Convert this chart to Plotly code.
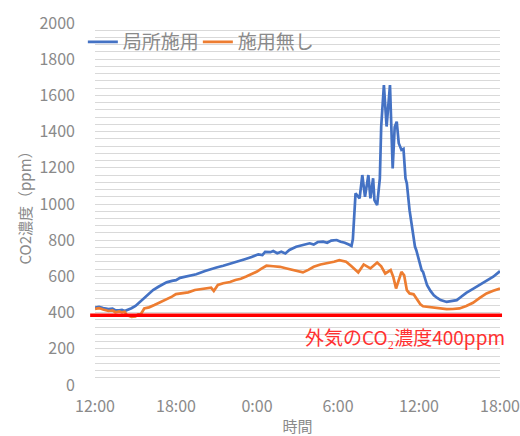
import plotly.graph_objects as go

# hours since 12:00 on day 1
hours_local = [0.0, 0.3, 0.6, 1.0, 1.3, 1.5, 1.8, 2.0, 2.2, 2.5, 2.7, 3.0, 3.3, 3.7, 4.0, 4.3, 4.7, 5.0,
               5.3, 5.7, 6.0, 6.3, 6.7, 7.0, 7.5, 8.15, 8.6, 9.0, 9.5, 9.9, 10.5, 11.1, 11.6, 12.1,
               12.4, 12.6, 13.0, 13.2, 13.5, 13.8, 14.1, 14.4, 14.9, 15.3, 15.6, 15.9, 16.2, 16.5,
               16.9, 17.2, 17.5, 17.9, 18.2, 18.5, 18.8, 19.0, 19.1, 19.2, 19.3, 19.45, 19.6, 19.8,
               20.0, 20.25, 20.4, 20.6, 20.7, 20.9, 21.1, 21.2, 21.4, 21.6, 21.85, 22.05, 22.2,
               22.35, 22.5, 22.7, 22.85, 23.0, 23.1, 23.3, 23.5, 23.7, 23.8, 23.95, 24.1, 24.2,
               24.3, 24.45, 24.6, 24.85, 25.1, 25.35, 25.6, 26.05, 26.4, 26.8, 27.1, 27.5, 28.0,
               28.5, 29.0, 29.5, 30.0]
co2_local = [427, 432, 425, 419, 422, 414, 412, 415, 409, 417, 424, 437, 457, 488, 507, 525, 543, 555,
             567, 575, 579, 592, 599, 603, 612, 630, 642, 649, 659, 667, 682, 695, 707, 722,
             718, 736, 734, 740, 728, 736, 727, 746, 764, 771, 778, 783, 776, 790,
             792, 786, 798, 801, 791, 786, 776, 768, 805, 957, 1059, 1045, 1031, 1160,
             1040, 1160, 1031, 1142, 1022, 994, 1142, 1428, 1657, 1428, 1657, 1197, 1425,
             1455, 1336, 1299, 1305, 1142, 1114, 966, 855, 765, 745, 705, 671, 634,
             625, 585, 551, 520, 496, 481, 469, 459, 462, 469, 486, 509, 531,
             552, 576, 598, 629]

hours_none = [0.0, 0.3, 0.6, 1.0, 1.3, 1.5, 1.8, 2.0, 2.2, 2.35, 2.7, 3.0, 3.2, 3.4, 3.65, 4.0, 4.4,
              5.0, 5.7, 6.0, 6.4, 6.9, 7.4, 8.0, 8.6, 8.8, 9.1, 9.5, 10.0, 10.4, 10.8, 11.2, 11.6,
              12.0, 12.3, 12.7, 13.2, 13.7, 14.2, 14.7, 15.1, 15.4, 15.8, 16.2, 16.7, 17.2, 17.7,
              18.1, 18.6, 19.0, 19.5, 19.9, 20.4, 20.9, 21.2, 21.5, 21.9, 22.1, 22.3, 22.7, 22.9,
              23.1, 23.3, 23.6, 23.8, 24.1, 24.3, 24.8, 25.1, 25.6, 26.05, 26.5, 27.0, 27.5, 28.0,
              28.5, 29.0, 29.5, 30.0]
co2_none = [420, 425, 417, 409, 412, 402, 407, 401, 405, 387, 377, 379, 390, 392, 423, 429, 442,
            462, 488, 502, 507, 512, 525, 532, 538, 519, 553, 562, 569, 580, 587, 599, 612,
            627, 642, 659, 656, 653, 644, 635, 628, 622, 636, 653, 666, 672, 681,
            690, 681, 656, 622, 666, 644, 677, 656, 616, 635, 596, 533, 625, 606,
            524, 506, 501, 478, 446, 435, 431, 428, 424, 419, 420, 423, 436, 454,
            481, 506, 521, 533]

series_names = ["局所施用", "施用無し"]
x_tickvals = [0, 6, 12, 18, 24, 30]
x_ticktext = ["12:00", "18:00", "0:00", "6:00", "12:00", "18:00"]
outside_level = 385
outside_label = "外気のCO₂濃度400ppm"

FONT = "Noto Sans CJK JP"
GRAY = "#8a8a8a"
GRID = "#d9d9d9"

fig = go.Figure()
fig.add_trace(go.Scatter(x=hours_local, y=co2_local, mode="lines", name=series_names[0],
                         line=dict(color="#4472C4", width=2.7)))
fig.add_trace(go.Scatter(x=hours_none, y=co2_none, mode="lines", name=series_names[1],
                         line=dict(color="#ED7D31", width=2.7)))

fig.add_shape(type="line", xref="paper", yref="y", x0=-0.012, x1=1.005,
              y0=outside_level, y1=outside_level, line=dict(color="#FF0000", width=3.5))
fig.add_annotation(xref="paper", yref="y", x=1.018, y=268, xanchor="right", yanchor="middle",
                   text=outside_label, showarrow=False,
                   font=dict(family=FONT, size=19, color="#FF3030"))

fig.update_layout(
    width=520, height=436,
    margin=dict(l=95, r=20, t=23, b=51, autoexpand=False),
    paper_bgcolor="white", plot_bgcolor="white",
    font=dict(family=FONT, color=GRAY, size=16),
    showlegend=True,
    legend=dict(orientation="h", x=-0.03, y=1.0, xanchor="left", yanchor="top",
                bgcolor="rgba(0,0,0,0)", font=dict(size=19, color=GRAY),
                itemwidth=30, tracegroupgap=0, entrywidth=70, entrywidthmode="pixels"),
)
fig.update_xaxes(range=[0, 30], tickvals=x_tickvals, ticktext=x_ticktext, showgrid=False,
                 zeroline=False, showline=False, ticks="", ticklabelstandoff=10,
                 ticklabeloverflow="allow", automargin=False,
                 tickfont=dict(size=16, color=GRAY),
                 title=dict(text="時間", font=dict(size=15, color=GRAY), standoff=12))
fig.update_yaxes(range=[0, 2000], dtick=200, showgrid=True, gridcolor=GRID, gridwidth=1,
                 minor=dict(dtick=40, showgrid=True, gridcolor=GRID, gridwidth=1),
                 zeroline=False, showline=False, ticks="", ticklabelstandoff=19,
                 automargin=False,
                 tickfont=dict(size=16, color=GRAY),
                 title=dict(text="CO2濃度（ppm）", font=dict(size=15, color=GRAY), standoff=4))

fig.write_html("out.html", config={"displayModeBar": False},
               post_script="document.body.style.margin='0';document.body.style.overflow='hidden';")
